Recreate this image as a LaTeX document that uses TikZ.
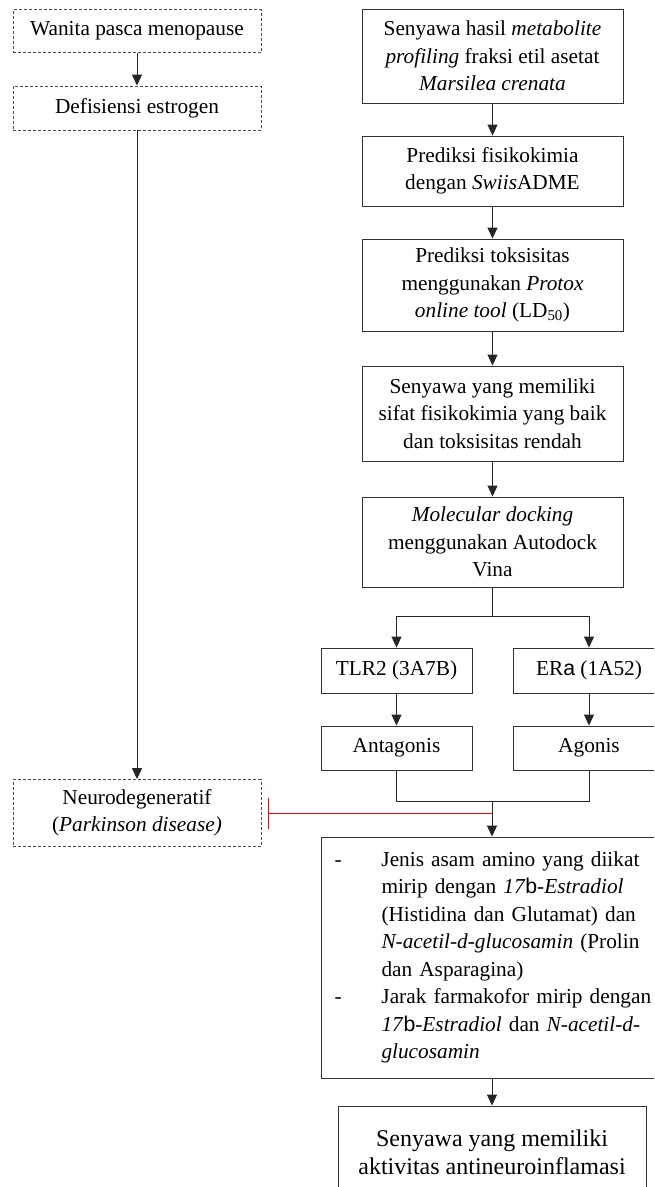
\documentclass[tikz,border=0pt]{standalone}
\usepackage{fontspec}
\setmainfont{Liberation Serif}
\newfontfamily\arialf{Liberation Sans}
\usetikzlibrary{arrows.meta}
\begin{document}
\begin{tikzpicture}[x=1pt,y=-1pt,
  box/.style={draw=black!80, line width=0.9pt, rectangle, inner sep=0pt, align=center,
    font=\fontsize{21.3}{27.5}\selectfont},
  dbox/.style={box, draw=black!70, dash pattern=on 3pt off 2pt},
  arr/.style={draw=black!85, line width=0.9pt, -{Triangle[width=10pt,length=11pt]}},
  ln/.style={draw=black!85, line width=0.9pt},
  inhib/.style={draw=red, line width=0.9pt, -{Bar[width=31pt,line width=0.9pt]}, shorten >=7pt}
]
\clip (0,0) rectangle (654,1187);
\useasboundingbox (0,0) rectangle (654,1187);

% left column
\node[dbox, minimum width=248pt, minimum height=43pt] (n1) at (137,31) {Wanita pasca menopause};
\node[dbox, minimum width=248pt, minimum height=44pt] (n2) at (137,108) {Defisiensi estrogen};
\node[dbox, minimum width=248pt, minimum height=67pt] (n3) at (137,813) {Neurodegeneratif\\(\textit{Parkinson disease)}};

% right column
\node[box, minimum width=261pt, minimum height=94pt] (r1) at (492.5,56)
  {Senyawa hasil \textit{metabolite}\\\textit{profiling} fraksi etil asetat\\\textit{Marsilea crenata}};
\node[box, minimum width=261pt, minimum height=70pt] (r2) at (492.5,171)
  {Prediksi fisikokimia\\dengan \textit{Swiis}ADME};
\node[box, minimum width=261pt, minimum height=92pt] (r3) at (492.5,285)
  {Prediksi toksisitas\\menggunakan \textit{Protox}\\\textit{online tool} (LD\textsubscript{50})};
\node[box, minimum width=261pt, minimum height=95pt] (r4) at (492.5,413.5)
  {Senyawa yang memiliki\\sifat fisikokimia yang baik\\dan toksisitas rendah};
\node[box, minimum width=261pt, minimum height=90pt] (r5) at (492.5,542)
  {\textit{Molecular docking}\\menggunakan Autodock\\Vina};

\node[box, minimum width=151pt, minimum height=45pt] (t1) at (396.5,670.5) {TLR2 (3A7B)};
\node[box, minimum width=152pt, minimum height=45pt] (t2) at (589,670.5) {ER{\arialf a} (1A52)};
\node[box, minimum width=151pt, minimum height=44pt] (a1) at (396.5,748) {Antagonis};
\node[box, minimum width=152pt, minimum height=44pt] (a2) at (589,748) {Agonis};

\node[box, minimum width=342pt, minimum height=241pt, text width=315pt, align=left] (big) at (492,957.5)
  {\makebox[47pt][l]{-}\makebox[268pt][s]{Jenis asam amino yang diikat}\\
   \hspace*{47pt}\makebox[268pt][s]{mirip dengan \textit{17}{\arialf b}-\textit{Estradiol}}\\
   \hspace*{47pt}\makebox[268pt][s]{(Histidina dan Glutamat) dan}\\
   \hspace*{47pt}\makebox[268pt][s]{\textit{N-acetil-d-glucosamin} (Prolin}\\
   \hspace*{47pt}dan Asparagina)\\
   \makebox[47pt][l]{-}\makebox[268pt][s]{Jarak farmakofor mirip dengan}\\
   \hspace*{47pt}\makebox[268pt][s]{\textit{17}{\arialf b}-\textit{Estradiol} dan \textit{N-acetil-d-}}\\
   \hspace*{47pt}\textit{glucosamin}};

\node[box, minimum width=308pt, minimum height=92pt, font=\fontsize{24}{28}\selectfont] (last) at (492,1152)
  {Senyawa yang memiliki\\aktivitas antineuroinflamasi};

% coordinates
\coordinate (split) at (492.5,616);
\coordinate (join) at (492,801);
\coordinate (redstart) at (492,813);

% connectors
\draw[arr] (n1) -- (n2);
\draw[arr] (n2) -- (n3);
\draw[arr] (r1) -- (r2);
\draw[arr] (r2) -- (r3);
\draw[arr] (r3) -- (r4);
\draw[arr] (r4) -- (r5);
\draw[ln] (r5.south) -- (split);
\draw[arr] (split) -| (t1.north);
\draw[arr] (split) -| (t2.north);
\draw[arr] (t1) -- (a1);
\draw[arr] (t2) -- (a2);
\draw[ln] (a1.south) |- (join) -| (a2.south);
\draw[arr] (join) -- (big.north);
\draw[inhib] (redstart) -- (n3.east);
\draw[arr] (big.south) -- (last.north);
\end{tikzpicture}
\end{document}
